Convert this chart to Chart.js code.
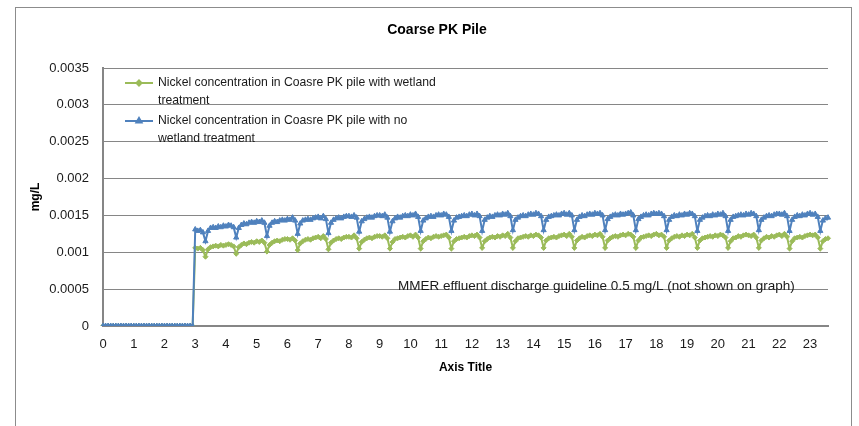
<!DOCTYPE html>
<html>
<head>
<meta charset="utf-8">
<script src="https://cdn.jsdelivr.net/npm/chart.js@4.4.1/dist/chart.umd.min.js"></script>
<style>
    body { margin: 0; background: #fff; }
    #wrap { position: relative; width: 859px; height: 426px; overflow: hidden; }
    #frame { position: absolute; left: 15px; top: 7px; width: 835px; height: 440px; border: 1px solid #8c8c8c; pointer-events: none; }
</style>
</head>
<body>
<div id="wrap">
    <canvas id="myChart" width="859" height="426"></canvas>
    <div id="frame"></div>
</div>
<script>
// tick labels on the x axis (years), one category per month
const years = [0, 1, 2, 3, 4, 5, 6, 7, 8, 9, 10, 11, 12, 13, 14, 15, 16, 17, 18, 19, 20, 21, 22, 23];
const monthsPerYear = 12;

// Nickel concentration (mg/L), monthly, with wetland treatment
const wetland = [
    0, 0, 0, 0, 0, 0, 0, 0, 0, 0, 0, 0,
    0, 0, 0, 0, 0, 0, 0, 0, 0, 0, 0, 0,
    0, 0, 0, 0, 0, 0, 0, 0, 0, 0, 0, 0,
    0.00106, 0.00105, 0.00106, 0.00103, 0.00094, 0.00104, 0.00107, 0.00108, 0.00109, 0.00108, 0.00110, 0.00109,
    0.00110, 0.00111, 0.00110, 0.00108, 0.00098, 0.00107, 0.00110, 0.00112, 0.00111, 0.00113, 0.00114, 0.00113,
    0.00115, 0.00114, 0.00116, 0.00113, 0.00101, 0.00110, 0.00113, 0.00115, 0.00116, 0.00115, 0.00117, 0.00118,
    0.00118, 0.00117, 0.00119, 0.00116, 0.00103, 0.00112, 0.00115, 0.00117, 0.00118, 0.00117, 0.00119, 0.00120,
    0.00121, 0.00119, 0.00122, 0.00118, 0.00104, 0.00113, 0.00116, 0.00118, 0.00119, 0.00118, 0.00120, 0.00121,
    0.00121, 0.00120, 0.00123, 0.00119, 0.00105, 0.00114, 0.00117, 0.00119, 0.00120, 0.00119, 0.00121, 0.00122,
    0.00122, 0.00121, 0.00123, 0.00119, 0.00105, 0.00114, 0.00118, 0.00119, 0.00120, 0.00121, 0.00120, 0.00122,
    0.00123, 0.00121, 0.00124, 0.00120, 0.00105, 0.00115, 0.00118, 0.00120, 0.00119, 0.00121, 0.00122, 0.00121,
    0.00122, 0.00123, 0.00124, 0.00120, 0.00105, 0.00115, 0.00118, 0.00119, 0.00120, 0.00121, 0.00120, 0.00122,
    0.00123, 0.00122, 0.00124, 0.00120, 0.00106, 0.00115, 0.00118, 0.00120, 0.00121, 0.00120, 0.00122, 0.00121,
    0.00123, 0.00122, 0.00125, 0.00120, 0.00106, 0.00115, 0.00119, 0.00120, 0.00121, 0.00122, 0.00121, 0.00123,
    0.00122, 0.00124, 0.00123, 0.00120, 0.00106, 0.00116, 0.00119, 0.00120, 0.00121, 0.00120, 0.00122, 0.00123,
    0.00124, 0.00122, 0.00125, 0.00121, 0.00106, 0.00116, 0.00119, 0.00121, 0.00120, 0.00122, 0.00123, 0.00122,
    0.00124, 0.00123, 0.00125, 0.00121, 0.00106, 0.00116, 0.00119, 0.00121, 0.00122, 0.00121, 0.00123, 0.00124,
    0.00123, 0.00125, 0.00124, 0.00121, 0.00106, 0.00116, 0.00120, 0.00121, 0.00122, 0.00123, 0.00122, 0.00124,
    0.00125, 0.00123, 0.00124, 0.00121, 0.00106, 0.00116, 0.00119, 0.00121, 0.00122, 0.00121, 0.00123, 0.00122,
    0.00124, 0.00123, 0.00125, 0.00120, 0.00106, 0.00116, 0.00119, 0.00120, 0.00121, 0.00122, 0.00121, 0.00123,
    0.00122, 0.00124, 0.00123, 0.00120, 0.00106, 0.00115, 0.00119, 0.00120, 0.00122, 0.00121, 0.00123, 0.00124,
    0.00123, 0.00122, 0.00124, 0.00120, 0.00106, 0.00116, 0.00119, 0.00121, 0.00120, 0.00122, 0.00121, 0.00123,
    0.00124, 0.00122, 0.00125, 0.00121, 0.00105, 0.00115, 0.00119, 0.00120, 0.00121, 0.00120, 0.00122, 0.00123,
    0.00124, 0.00123, 0.00124, 0.00120, 0.00105, 0.00115, 0.00118, 0.00119
];

// Nickel concentration (mg/L), monthly, with no wetland treatment
const noWetland = [
    0, 0, 0, 0, 0, 0, 0, 0, 0, 0, 0, 0,
    0, 0, 0, 0, 0, 0, 0, 0, 0, 0, 0, 0,
    0, 0, 0, 0, 0, 0, 0, 0, 0, 0, 0, 0,
    0.00131, 0.00129, 0.00130, 0.00127, 0.00115, 0.00129, 0.00133, 0.00134, 0.00133, 0.00135, 0.00134, 0.00136,
    0.00135, 0.00137, 0.00136, 0.00134, 0.00120, 0.00133, 0.00137, 0.00139, 0.00138, 0.00140, 0.00141, 0.00140,
    0.00142, 0.00141, 0.00143, 0.00140, 0.00122, 0.00136, 0.00140, 0.00142, 0.00141, 0.00143, 0.00144, 0.00143,
    0.00145, 0.00144, 0.00147, 0.00143, 0.00125, 0.00139, 0.00143, 0.00144, 0.00145, 0.00144, 0.00146, 0.00147,
    0.00148, 0.00146, 0.00149, 0.00145, 0.00126, 0.00140, 0.00144, 0.00146, 0.00147, 0.00146, 0.00148, 0.00149,
    0.00149, 0.00148, 0.00150, 0.00147, 0.00128, 0.00142, 0.00145, 0.00147, 0.00148, 0.00147, 0.00149, 0.00150,
    0.00150, 0.00149, 0.00151, 0.00147, 0.00128, 0.00142, 0.00146, 0.00148, 0.00147, 0.00149, 0.00150, 0.00149,
    0.00151, 0.00150, 0.00152, 0.00148, 0.00129, 0.00143, 0.00146, 0.00148, 0.00149, 0.00148, 0.00150, 0.00151,
    0.00150, 0.00152, 0.00151, 0.00148, 0.00129, 0.00143, 0.00147, 0.00148, 0.00149, 0.00150, 0.00149, 0.00151,
    0.00152, 0.00150, 0.00152, 0.00149, 0.00129, 0.00144, 0.00147, 0.00149, 0.00148, 0.00150, 0.00151, 0.00150,
    0.00152, 0.00151, 0.00153, 0.00149, 0.00130, 0.00144, 0.00147, 0.00149, 0.00150, 0.00149, 0.00151, 0.00152,
    0.00151, 0.00153, 0.00152, 0.00149, 0.00130, 0.00144, 0.00148, 0.00149, 0.00150, 0.00151, 0.00150, 0.00152,
    0.00153, 0.00151, 0.00153, 0.00150, 0.00130, 0.00144, 0.00148, 0.00150, 0.00149, 0.00151, 0.00152, 0.00151,
    0.00153, 0.00152, 0.00153, 0.00150, 0.00130, 0.00145, 0.00148, 0.00150, 0.00151, 0.00150, 0.00152, 0.00151,
    0.00152, 0.00153, 0.00154, 0.00150, 0.00130, 0.00145, 0.00148, 0.00150, 0.00151, 0.00150, 0.00152, 0.00153,
    0.00152, 0.00153, 0.00152, 0.00149, 0.00130, 0.00144, 0.00148, 0.00150, 0.00149, 0.00151, 0.00150, 0.00152,
    0.00151, 0.00153, 0.00152, 0.00149, 0.00129, 0.00144, 0.00147, 0.00149, 0.00150, 0.00149, 0.00151, 0.00150,
    0.00152, 0.00151, 0.00153, 0.00149, 0.00129, 0.00144, 0.00148, 0.00149, 0.00150, 0.00151, 0.00150, 0.00152,
    0.00151, 0.00153, 0.00152, 0.00149, 0.00130, 0.00144, 0.00147, 0.00149, 0.00150, 0.00149, 0.00151, 0.00152,
    0.00152, 0.00151, 0.00153, 0.00149, 0.00129, 0.00144, 0.00148, 0.00150, 0.00149, 0.00151, 0.00150, 0.00152,
    0.00153, 0.00151, 0.00152, 0.00148, 0.00129, 0.00143, 0.00146, 0.00147
];

const seriesNames = [
    ['Nickel concentration in Coasre PK pile with wetland', 'treatment'],
    ['Nickel concentration in Coasre PK pile with no', 'wetland treatment']
];
const noteText = 'MMER effluent discharge guideline 0.5 mg/L (not shown on graph)';

const green = '#9BBB59';
const blue = '#4F81BD';
const fontFamily = '"Liberation Sans", Arial, sans-serif';

// one category per month
const labels = noWetland.map((v, i) => i);

// legend and note drawn inside the plot, like the Excel text boxes
const textBoxes = {
    id: 'textBoxes',
    afterDraw(chart) {
        const ctx = chart.ctx;
        ctx.save();
        ctx.textBaseline = 'middle';
        ctx.fillStyle = '#1a1a1a';

        const items = [
            { color: green, style: 'rectRot', radius: 2.5, y: 83, lines: seriesNames[0] },
            { color: blue, style: 'triangle', radius: 3, y: 121, lines: seriesNames[1] }
        ];
        items.forEach(item => {
            ctx.strokeStyle = item.color;
            ctx.lineWidth = 2;
            ctx.beginPath();
            ctx.moveTo(125, item.y);
            ctx.lineTo(153, item.y);
            ctx.stroke();
            ctx.fillStyle = item.color;
            Chart.helpers.drawPoint(ctx, { pointStyle: item.style, radius: item.radius, borderWidth: 1 }, 139, item.y);
            ctx.fillStyle = '#1a1a1a';
            ctx.font = '12.2px ' + fontFamily;
            ctx.textAlign = 'left';
            item.lines.forEach((line, i) => {
                ctx.fillText(line, 158, item.y + i * 18);
            });
        });

        ctx.font = '13.5px ' + fontFamily;
        ctx.fillText(noteText, 398, 286);

        ctx.font = 'bold 14px ' + fontFamily;
        ctx.textAlign = 'center';
        ctx.fillStyle = '#000';
        ctx.fillText('Coarse PK Pile', 437, 30);
        ctx.restore();
    }
};

const ctx = document.getElementById('myChart').getContext('2d');
const chart = new Chart(ctx, {
    type: 'line',
    data: {
        labels: labels,
        datasets: [{
            label: seriesNames[1].join(' '),
            data: noWetland,
            borderColor: blue,
            backgroundColor: blue,
            borderWidth: 2,
            pointStyle: 'triangle',
            pointRadius: 3,
            pointBorderWidth: 1,
            tension: 0,
            order: 0
        }, {
            label: seriesNames[0].join(' '),
            data: wetland,
            borderColor: green,
            backgroundColor: green,
            borderWidth: 2,
            pointStyle: 'rectRot',
            pointRadius: 2.5,
            pointBorderWidth: 1,
            tension: 0,
            order: 1
        }]
    },
    options: {
        responsive: false,
        animation: false,
        devicePixelRatio: 1,
        layout: {
            padding: { top: 68, right: 31, left: 0, bottom: 0 }
        },
        plugins: {
            legend: { display: false },
            title: { display: false },
            tooltip: { enabled: false }
        },
        scales: {
            x: {
                type: 'category',
                offset: false,
                grid: { display: false, drawTicks: false },
                border: { color: '#868686', width: 2 },
                ticks: {
                    autoSkip: false,
                    maxRotation: 0,
                    minRotation: 0,
                    padding: 11,
                    color: '#1a1a1a',
                    font: { family: fontFamily, size: 13 },
                    callback: (v, i) => (i % monthsPerYear === 0 && years.includes(i / monthsPerYear)) ? String(i / monthsPerYear) : ''
                },
                title: {
                    display: true,
                    text: 'Axis Title',
                    color: '#000',
                    font: { family: fontFamily, size: 12, weight: 'bold' },
                    padding: { top: 4, bottom: 51 }
                },
                afterFit: scale => { scale.height = 100; }
            },
            y: {
                min: 0,
                max: 0.0035,
                grid: { color: '#868686', lineWidth: 1, drawTicks: false },
                border: { color: '#868686', width: 2 },
                ticks: {
                    stepSize: 0.0005,
                    padding: 14,
                    color: '#1a1a1a',
                    font: { family: fontFamily, size: 13 },
                    callback: v => String(+v.toFixed(4))
                },
                title: {
                    display: true,
                    text: 'mg/L',
                    color: '#000',
                    font: { family: fontFamily, size: 12, weight: 'bold' },
                    padding: { top: 28, bottom: 0 }
                },
                afterFit: scale => { scale.width = 103; }
            }
        }
    },
    plugins: [textBoxes]
});
</script>
</body>
</html>
